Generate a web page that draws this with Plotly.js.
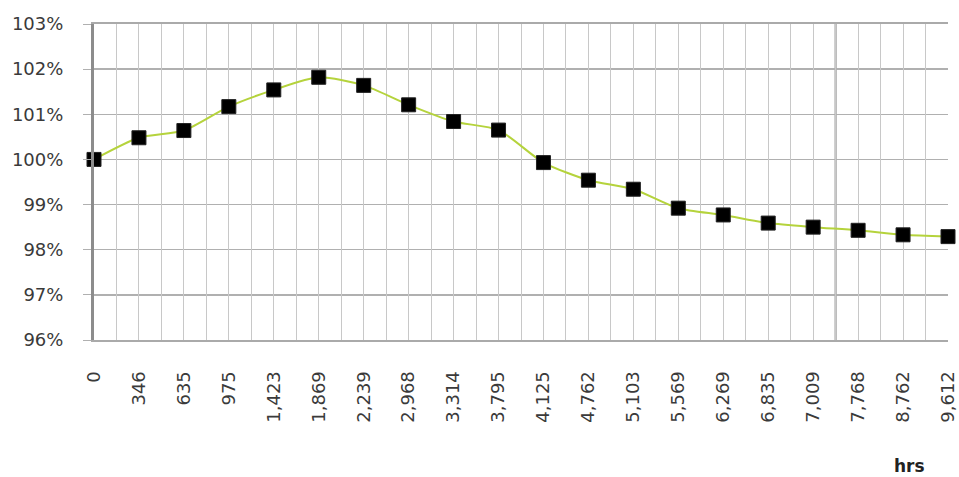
<!DOCTYPE html>
<html>
<head>
<meta charset="utf-8">
<script src="https://cdn.plot.ly/plotly-3.0.1.min.js"></script>
<style>html,body{margin:0;padding:0;background:#fff;}#chart{width:959px;height:477px;}</style>
</head>
<body>
<div id="chart"></div>
<script>
var hours = ["0","346","635","975","1,423","1,869","2,239","2,968","3,314","3,795","4,125","4,762","5,103","5,569","6,269","6,835","7,009","7,768","8,762","9,612"];
var relative = [100.0,100.48,100.64,101.17,101.54,101.82,101.64,101.21,100.84,100.65,99.93,99.54,99.34,98.92,98.77,98.59,98.50,98.43,98.33,98.29];
var yTicks = [96,97,98,99,100,101,102,103];
var yTickText = yTicks.map(function(v){ return v + "%"; });
var xUnit = "hrs";

var trace = {
  x: hours, y: relative, type: "scatter", mode: "lines+markers",
  line: {color: "#b5d33c", width: 2, shape: "spline", smoothing: 0.7},
  marker: {symbol: "square", size: 14, color: "#000", line: {color: "#222", width: 1}},
  cliponaxis: false, hoverinfo: "skip"
};
var gridTrace = {x: [0, hours.length - 1], y: [yTicks[0], yTicks[0]], xaxis: "x2", type: "scatter", mode: "none", hoverinfo: "skip", showlegend: false};

var layout = {
  width: 959, height: 477,
  margin: {l: 94, r: 11, t: 24, b: 137},
  paper_bgcolor: "#fff", plot_bgcolor: "#fff",
  showlegend: false,
  font: {family: "DejaVu Sans, Verdana, sans-serif", color: "#3a3a3a"},
  xaxis: {
    type: "category", range: [0, hours.length - 1],
    showgrid: false, zeroline: false,
    showline: true, linecolor: "#aaaaaa", linewidth: 2, mirror: true,
    ticks: "", tickangle: -90, tickfont: {size: 18, color: "#3a3a3a"},
    ticklabelstandoff: 22
  },
  xaxis2: {
    overlaying: "x", type: "linear", range: [0, hours.length - 1], dtick: 0.5, tick0: 0,
    showgrid: true, gridcolor: "#c8c8c8", gridwidth: 1,
    showticklabels: false, ticks: "", zeroline: false, showline: false
  },
  yaxis: {
    range: [yTicks[0], yTicks[yTicks.length - 1]], tickmode: "array", tickvals: yTicks, ticktext: yTickText,
    showgrid: true, gridcolor: "#b0b0b0", gridwidth: 1.5, zeroline: false,
    showline: true, linecolor: "#8c8c8c", linewidth: 3,
    ticks: "outside", ticklen: 8, tickcolor: "#b0b0b0",
    tickfont: {size: 18, color: "#3a3a3a"},
    ticklabelstandoff: 16
  },
  shapes: [
    {type: "line", xref: "x2", yref: "paper", x0: 16.5, x1: 16.5, y0: 0, y1: 1, line: {color: "#b4b4b4", width: 2.5}, layer: "below"}
  ],
  annotations: [
    {text: xUnit, xref: "paper", yref: "paper", x: 0.955, y: -0.40, xanchor: "center", yanchor: "middle", showarrow: false,
     font: {size: 17, color: "#222", family: "DejaVu Sans, sans-serif", weight: "bold"}}
  ]
};
Plotly.newPlot("chart", [gridTrace, trace], layout, {displayModeBar: false, staticPlot: true});
</script>
</body>
</html>
